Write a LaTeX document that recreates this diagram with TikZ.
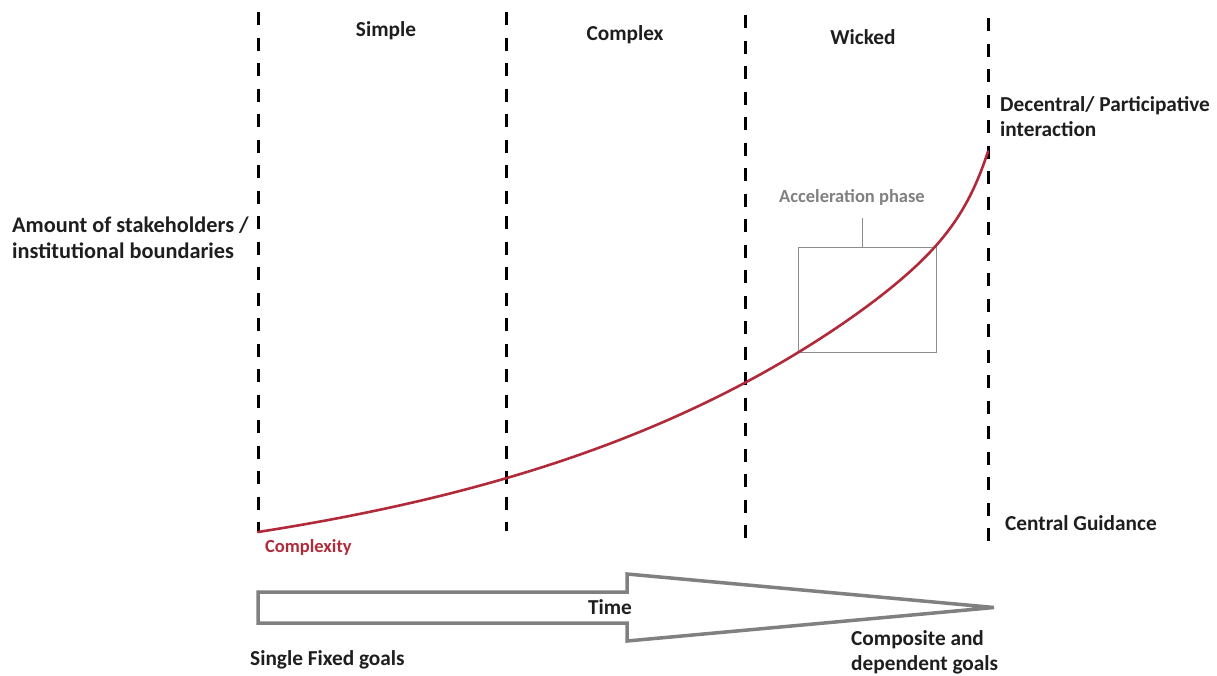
\documentclass[tikz,border=0pt]{standalone}
\usepackage{fontspec}
\setmainfont{Carlito}
\definecolor{curvered}{RGB}{176,42,58}
\definecolor{boxgray}{RGB}{140,140,140}
\definecolor{arrowgray}{RGB}{128,128,128}
\definecolor{txt}{RGB}{30,30,30}
\begin{document}
\begin{tikzpicture}[x=1pt,y=-1pt,
  divider/.style={line width=3pt, dash pattern=on 13pt off 12.5pt, black},
  lbl/.style={font=\bfseries\fontsize{21.3}{25}\selectfont, text=txt, inner sep=0pt},
  lbll/.style={lbl, anchor=west, align=left},
  small/.style={font=\bfseries\fontsize{18.5}{21}\selectfont, inner sep=0pt}]
\useasboundingbox (0,0) rectangle (1217,675);
% dividers
\coordinate (d1t) at (258,12); \coordinate (d1b) at (258,531);
\coordinate (d2t) at (506,12); \coordinate (d2b) at (506,531);
\coordinate (d3t) at (745,15); \coordinate (d3b) at (745,538);
\coordinate (d4t) at (988,18); \coordinate (d4b) at (988,541);
\draw[divider] (d1t) -- (d1b);
\draw[divider] (d2t) -- (d2b);
\draw[divider] (d3t) -- (d3b);
\draw[divider] (d4t) -- (d4b);
% column titles
\node[lbl] (simple) at (386,31) {Simple};
\node[lbl] (complex) at (625,35) {Complex};
\node[lbl] (wicked) at (863,37) {Wicked};
% side labels
\node[lbll] (dec) at (1000,117) {Decentral/ Participative\\interaction};
\node[lbll, font=\bfseries\fontsize{22.3}{26.5}\selectfont] (amount) at (12,238) {Amount of stakeholders /\\institutional boundaries};
\node[lbll] (central) at (1005,523) {Central Guidance};
% acceleration box
\node[draw=boxgray, line width=1pt, minimum width=138pt, minimum height=105pt, inner sep=0pt] (accbox) at (867,299.5) {};
\node[small, text=arrowgray] (acclbl) at (852,197) {Acceleration phase};
\coordinate (acctop) at (862,218);
\draw[boxgray, line width=1pt] (accbox.north -| acctop) -- (acctop);
% curve
\draw[curvered, line width=2.6pt, line cap=round] plot[domain=0:730, samples=200]
 ({258+\x},{532-62*(exp(0.002524*\x)-1)-53*exp((\x-730)/25)});
\node[small, text=curvered, anchor=west] (cplx) at (265,547) {Complexity};
% time arrow
\draw[arrowgray, line width=3.5pt, line join=miter, fill=white]
 (258,592) -- (627,592) -- (627,574) -- (994,607.5) -- (627,641) -- (627,623) -- (258,623) -- cycle;
\node[lbl] (time) at (610,607) {Time};
\node[lbll] (single) at (250,660) {Single Fixed goals};
\node[lbll] (comp) at (851,652) {Composite and\\dependent goals};
\end{tikzpicture}
\end{document}
